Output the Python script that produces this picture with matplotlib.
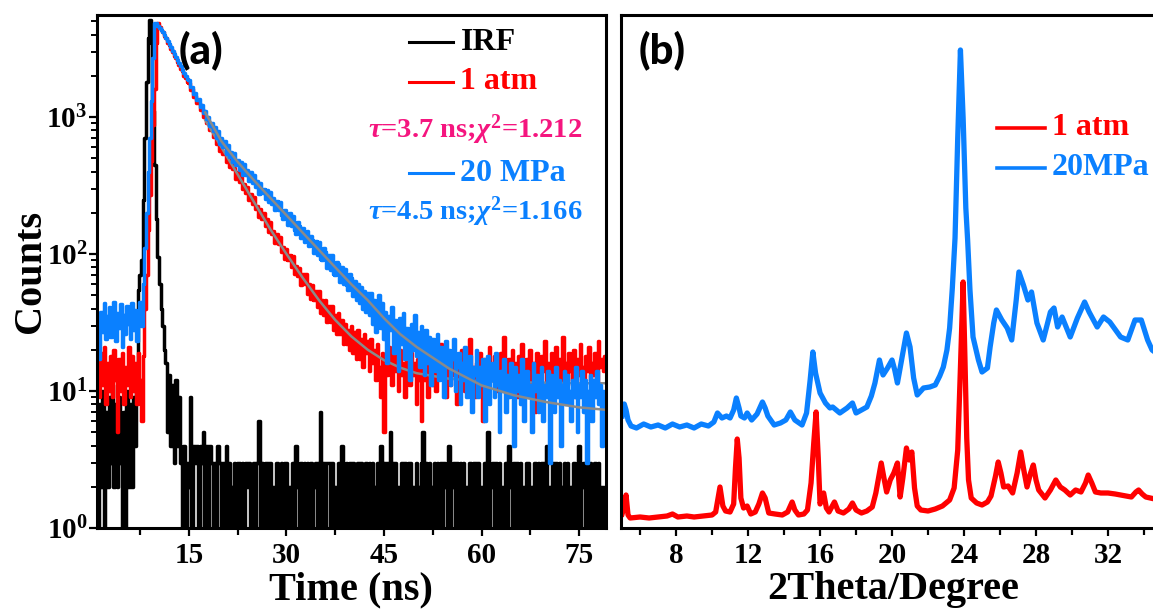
import numpy as np
import matplotlib
matplotlib.use('Agg')
import matplotlib.pyplot as plt
from matplotlib.ticker import MultipleLocator, LogLocator, NullFormatter

plt.rcParams['font.family'] = 'Liberation Serif'
plt.rcParams['font.weight'] = 'bold'
plt.rcParams['mathtext.fontset'] = 'custom'
plt.rcParams['mathtext.rm'] = 'Liberation Serif:bold'
plt.rcParams['mathtext.it'] = 'Liberation Serif:italic:bold'
plt.rcParams['mathtext.bf'] = 'Liberation Serif:bold'

RED = '#FF0000'
BLUE = '#0A80FF'
PINK = '#F5157F'
GRAY = '#8A8A8A'

# ---------------------------------------------------------------
# (a) time-resolved PL, channels every 0.25 ns starting at 1 ns
# ---------------------------------------------------------------
T0 = 1.0
DT = 0.25

irf_counts = np.array("""
1 8 2 10 1 7 2 9
3 11 2 8 2 9 3 1
7 1 10 2 8 2 9 4
10 55 70 90 250 700 1800 3800
5100 3500 1100 450 180 95 60 40
30 20 16 5 13 4 11 3
12 4 9 3 1 4 1 3
2 9 1 4 3 4 1 4
3 5 1 4 1 4 3 1
3 1 4 3 1 3 1 4
1 3 2 1 3 1 3 3
1 3 1 3 2 3 1 2
3 1 3 6 1 3 1 3
3 1 3 1 2 1 3 2
1 3 1 3 3 1 2 1
3 1 4 2 1 3 1 3
1 3 1 3 1 2 3 1
3 7 1 3 1 3 3 1
3 1 2 1 3 1 4 2
1 3 1 3 1 3 1 2
3 1 3 1 2 3 1 3
1 3 1 2 3 1 4 1
3 1 3 1 5 1 3 3
1 2 1 3 1 3 1 3
3 1 2 1 3 2 1 3
5 1 3 1 3 1 2 3
1 3 1 3 1 3 2 1
4 1 2 3 1 3 1 3
1 3 1 2 1 3 1 3
3 1 3 1 2 1 3 1
5 1 2 3 1 3 1 3
1 2 1 3 1 4 2 1
3 1 3 1 3 1 2 1
3 3 1 2 1 3 1 3
1 3 3 1 4 1 2 1
3 1 3 1 3 2 1 3
1 3 1 2 1 3 1 3
4 1 2 3 1 3 1 3
1 2 3 1 3 1 2 1
2
""".split(), dtype=float)

atm_counts = np.array("""
14 9 19 11 21 8 16 10
18 9 20 12 5 17 10 19
8 15 11 21 9 18 10 16
8 19 12 6 18 40 70 150
270 480 870 1600 3500 4900 4550 4300
4150 3900 3750 3500 3350 3130 3000 2800
2690 2510 2400 2250 2160 2010 1930 1800
1780 1570 1590 1400 1420 1260 1270 1120
1150 1000 1025 900 920 805 825 720
773 636 679 562 656 541 554 472
530 435 493 415 424 351 399 338
375 298 327 279 309 247 275 230
263 214 223 186 214 179 201 160
179 145 172 139 148 120 140 118
133 104 112 92 109 91 98 80
96 72 82 69 79 59 72 60
71 51 60 47 59 46 54 41
54 37 46 36 46 32 42 32
42 28 36 26 37 26 33 22
31 22 28 20 30 19 27 17
28 17 24 15 26 19 23 14
24 16 20 12 22 15 9 19
5 18 13 21 15 11 19 14
17 10 20 13 16 9 18 14
11 19 13 16 8 17 12 6
15 12 20 9 14 17 11 16
10 18 13 22 12 15 9 17
14 11 19 13 16 8 18 12
20 14 10 17 13 24 11 15
9 16 13 19 12 6 17 14
11 21 15 12 18 10 16 13
19 12 25 14 10 17 13 20
12 16 9 18 14 22 11 15
17 13 20 10 16 7 19 14
12 18 14 23 11 16 13 19
10 15 21 13 17 12 25 14
16 11 19 14 12 20 9 17
13 22 15 10 18 14 21 12
16 13 19 11 23 15 17 14
18
""".split(), dtype=float)

mpa_counts = np.array("""
30 17 38 27 44 24 35 41
25 33 45 23 37 29 43 21
36 26 42 31 24 44 28 39
23 35 45 30 60 110 200 400
700 1300 2700 4900 4850 4650 4450 4300
4200 4000 3800 3600 3400 3230 3060 2900
2750 2610 2480 2350 2220 2110 2000 1890
1850 1660 1670 1480 1500 1330 1350 1190
1230 1070 1100 960 1000 865 905 790
845 703 789 632 698 603 669 537
627 511 557 466 550 450 483 413
466 380 457 379 412 343 400 331
380 307 340 276 332 281 300 252
294 238 285 232 257 209 244 208
239 194 181 211 200 164 199 159
190 149 140 170 161 132 154 122
124 147 114 136 127 102 124 99
122 92 91 110 103 79 99 76
98 71 70 88 84 62 81 60
78 59 55 72 67 49 64 46
60 44 57 40 54 38 52 36
52 31 46 27 40 50 29 44
24 38 16 35 28 41 19 33
30 14 34 22 37 17 29 25
12 31 20 36 18 27 15 30
22 13 28 16 25 11 24 19
14 26 12 21 17 9 23 15
20 11 17 24 10 15 19 8
16 12 21 9 14 18 7 15
13 20 9 15 11 17 6 14
18 8 12 16 9 19 11 5
14 10 17 7 13 9 16 11
4 15 10 13 8 17 6 12
14 9 11 5 16 10 13 7
12 15 6 11 9 14 3 13
10 7 15 9 12 4 11 14
8 13 10 6 12 9 15 5
11 9 14 7 12 3 10 13
6 12 9 14 8 11 4 10
9
""".split(), dtype=float)

# fitted decays (grey)
fit_time = [17.5, 20, 22.5, 25, 27.5, 30, 32.5, 35, 37.5, 40,
            42.5, 45, 47.5, 50, 55, 60, 65, 70, 75, 79]
fit_atm = [950, 600, 380, 240, 152, 100, 67, 46, 33, 25,
           20, 16.8, 14.8, 13.5, 12.3, 11.8, 11.6, 11.5, 11.4, 11.4]
fit_mpa = [1080, 665, 470, 345, 257, 192, 143, 107, 80, 60,
           46, 34, 26, 21, 14.6, 11, 9.3, 8.3, 7.6, 7.3]

time_ticks = [15, 30, 45, 60, 75]

# ---------------------------------------------------------------
# (b) XRD patterns (arbitrary units)
# ---------------------------------------------------------------
xrd_atm_theta = [5.0, 5.1, 5.22, 5.33, 5.45, 6.0, 6.5, 7.0, 7.5, 7.8, 8.1, 8.6, 9.0,
                 9.5, 10.0, 10.2, 10.44, 10.6, 10.75, 11.0, 11.2, 11.3, 11.4, 11.5,
                 11.6, 11.75, 11.95, 12.15, 12.4, 12.6, 12.8, 12.95, 13.15, 13.5,
                 13.9, 14.2, 14.45, 14.6, 14.8, 15.1, 15.3, 15.5, 15.65, 15.78,
                 15.9, 16.0, 16.2, 16.35, 16.5, 16.8, 17.0, 17.3, 17.6, 17.8, 18.0,
                 18.3, 18.6, 18.9, 19.1, 19.4, 19.55, 19.7, 19.9, 20.1, 20.3, 20.45,
                 20.6, 20.8, 20.95, 21.1, 21.25, 21.4, 21.6, 22.0, 22.4, 22.8, 23.2,
                 23.45, 23.65, 23.8, 23.95, 24.05, 24.15, 24.25, 24.4, 24.7, 25.0,
                 25.3, 25.5, 25.75, 25.9, 26.05, 26.2, 26.45, 26.7, 26.95, 27.15,
                 27.3, 27.5, 27.7, 27.85, 28.0, 28.15, 28.5, 28.8, 29.1, 29.35,
                 29.6, 29.9, 30.2, 30.5, 30.75, 30.9, 31.1, 31.3, 31.6, 32.0, 32.4,
                 32.7, 33.0, 33.3, 33.55, 33.7, 33.9, 34.1, 34.6]
xrd_atm = [14, 20, 33, 13, 10, 11, 10, 11, 12, 14, 11, 12, 11,
           12, 13, 16, 41, 22, 17, 16, 24, 60, 89, 70,
           30, 20, 22, 14, 16, 24, 35, 30, 15, 14,
           13, 16, 26, 18, 13, 14, 18, 45, 85, 116,
           70, 24, 35, 20, 16, 26, 17, 15, 19, 25, 18,
           15, 17, 21, 35, 65, 50, 36, 48, 55, 65, 31,
           50, 80, 68, 76, 40, 22, 18, 17, 19, 22, 28,
           40, 78, 160, 246, 170, 90, 48, 30, 25, 23,
           26, 32, 52, 66, 55, 41, 42, 35, 55, 76,
           60, 41, 55, 63, 48, 38, 30, 38, 48, 41,
           38, 33, 38, 36, 45, 53, 45, 36, 35, 35, 34,
           33, 32, 31, 36, 38, 34, 31, 29]

xrd_mpa_theta = [5.0, 5.06, 5.12, 5.22, 5.33, 5.5, 5.8, 6.2, 6.6, 7.0, 7.4, 7.8, 8.2,
                 8.6, 9.0, 9.4, 9.8, 10.1, 10.3, 10.55, 10.8, 11.0, 11.2, 11.35,
                 11.5, 11.6, 11.8, 11.95, 12.2, 12.5, 12.8, 12.95, 13.1, 13.45,
                 13.8, 14.1, 14.35, 14.6, 15.0, 15.25, 15.45, 15.6, 15.75, 16.0,
                 16.3, 16.55, 16.7, 17.1, 17.5, 17.8, 18.0, 18.3, 18.6, 18.85,
                 19.05, 19.3, 19.5, 19.75, 20.0, 20.15, 20.3, 20.55, 20.8, 21.0,
                 21.2, 21.4, 21.75, 22.1, 22.4, 22.65, 22.85, 23.05, 23.2, 23.35,
                 23.5, 23.65, 23.8, 23.95, 24.1, 24.2, 24.33, 24.5, 24.8, 25.0,
                 25.3, 25.45, 25.65, 25.8, 26.1, 26.4, 26.65, 26.9, 27.05, 27.3,
                 27.55, 27.75, 28.05, 28.4, 28.8, 29.0, 29.2, 29.45, 29.9, 30.3,
                 30.7, 30.95, 31.4, 31.75, 32.1, 32.7, 33.1, 33.5, 33.85, 34.2,
                 34.45, 34.6]
xrd_mpa = [112, 120, 124, 118, 108, 102, 100, 104, 101, 103, 100, 104, 101,
           103, 100, 104, 102, 106, 115, 110, 112, 110, 118, 130,
           120, 112, 110, 115, 108, 114, 126, 120, 112, 103,
           105, 108, 116, 108, 103, 115, 148, 176, 155, 135,
           125, 120, 121, 115, 120, 125, 115, 118, 121, 132,
           145, 168, 153, 160, 168, 158, 145, 170, 195, 181,
           150, 133, 140, 141, 143, 152, 161, 178, 200, 240,
           290, 390, 478, 410, 320, 288, 238, 191, 168, 156,
           160, 181, 205, 218, 208, 200, 188, 228, 256, 243,
           228, 236, 205, 188, 216, 220, 201, 211, 191, 210,
           226, 216, 201, 211, 206, 191, 188, 208, 208, 188,
           178, 176]

theta_major = [8, 12, 16, 20, 24, 28, 32]

# ---------------------------------------------------------------
# figure
# ---------------------------------------------------------------
W, H = 1153, 610
fig = plt.figure(figsize=(W / 100, H / 100), dpi=100)

ax1 = fig.add_axes([97 / W, 82 / H, 509 / W, 513 / H])
ax2 = fig.add_axes([621 / W, 82 / H, 532 / W, 513 / H])

t_irf = T0 + DT * np.arange(len(irf_counts))
t_atm = T0 + DT * np.arange(len(atm_counts))
t_mpa = T0 + DT * np.arange(len(mpa_counts))

# histogram-like drawing so the noisy channels fill in like the original
ax1.plot(t_irf, irf_counts, color='black', lw=2.5, drawstyle='steps-mid')
ax1.plot(t_atm, atm_counts, color=RED, lw=2.5, drawstyle='steps-mid')
ax1.plot(fit_time, fit_atm, color=GRAY, lw=1.8)
ax1.plot(t_mpa, mpa_counts, color=BLUE, lw=2.5, drawstyle='steps-mid')
ax1.plot(fit_time, fit_mpa, color=GRAY, lw=1.8)

ax1.set_yscale('log')
ax1.set_ylim(1, 5560)
ax1.set_xlim(0.85, 79.15)
ax1.set_xticks(time_ticks)
ax1.xaxis.set_minor_locator(MultipleLocator(7.5))
ax1.yaxis.set_major_locator(LogLocator(base=10, numticks=10))
ax1.yaxis.set_minor_locator(LogLocator(base=10, subs=np.arange(2, 10), numticks=10))
ax1.yaxis.set_minor_formatter(NullFormatter())
ax1.tick_params(axis='x', which='major', direction='out', length=6, width=1.6,
                labelsize=21, pad=4)
ax1.tick_params(axis='x', which='minor', direction='out', length=5, width=1.6)
ax1.tick_params(axis='y', which='major', direction='out', length=6, width=1.6,
                labelsize=21, pad=1)
ax1.tick_params(axis='y', which='minor', direction='out', length=4, width=1.4)
for s in ax1.spines.values():
    s.set_linewidth(2.2)

ax1.set_xlabel('Time (ns)', fontsize=29, fontweight='bold')
ax1.xaxis.set_label_coords(0.499, -0.084)
ax1.set_ylabel('Counts', fontsize=29, fontweight='bold')
ax1.yaxis.set_label_coords(-0.094, 0.5)

ax1.text(0.205, 0.932, '(a)', transform=ax1.transAxes, fontsize=30,
         family='Lato', fontweight='black', ha='center', va='center')

# legend of (a), drawn by hand
hx = [0.6125, 0.70]
for y, col, label in [(0.947, 'black', 'IRF'), (0.870, RED, '1 atm'), (0.692, BLUE, '20 MPa')]:
    ax1.plot(hx, [y, y], color=col, lw=2.2, transform=ax1.transAxes, clip_on=False)
    ax1.text(0.714, y, label, color=col, fontsize=23, transform=ax1.transAxes,
             ha='left', va='center')
ax1.text(0.953, 0.776, r'$\tau$=3.7 ns;$\chi^{2}$=1.212', color=PINK, fontsize=20.5,
         transform=ax1.transAxes, ha='right', va='center')
ax1.text(0.953, 0.616, r'$\tau$=4.5 ns;$\chi^{2}$=1.166', color=BLUE, fontsize=20.5,
         transform=ax1.transAxes, ha='right', va='center')

# (b)
ax2.plot(xrd_atm_theta, xrd_atm, color=RED, lw=3.8, solid_joinstyle='round')
ax2.plot(xrd_mpa_theta, xrd_mpa, color=BLUE, lw=3.8, solid_joinstyle='round')
ax2.set_xlim(4.94, 34.5)
ax2.set_ylim(0, 513)
ax2.set_xticks(theta_major)
ax2.xaxis.set_minor_locator(MultipleLocator(2))
ax2.set_yticks([])
ax2.tick_params(axis='x', which='major', direction='out', length=6, width=1.6,
                labelsize=21, pad=4)
ax2.tick_params(axis='x', which='minor', direction='out', length=5, width=1.6)
for s in ax2.spines.values():
    s.set_linewidth(2.2)
ax2.spines['right'].set_visible(False)
ax2.set_xlabel('2Theta/Degree', fontsize=29, fontweight='bold')
ax2.xaxis.set_label_coords(0.511, -0.084)

ax2.text(0.077, 0.932, '(b)', transform=ax2.transAxes, fontsize=30,
         family='Lato', fontweight='black', ha='center', va='center')
hx2 = [0.707, 0.797]
for y, col, label in [(0.780, RED, '1 atm'), (0.702, BLUE, '20MPa')]:
    ax2.plot(hx2, [y, y], color=col, lw=2.6, transform=ax2.transAxes, clip_on=False)
    ax2.text(0.81, y, label, color=col, fontsize=23, transform=ax2.transAxes,
             ha='left', va='center')

fig.savefig('out.png', dpi=100)
